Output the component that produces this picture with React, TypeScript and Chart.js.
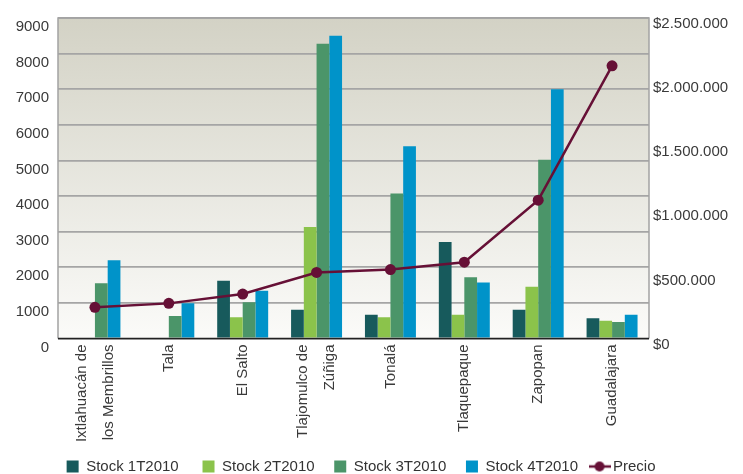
import React, { useEffect, useRef } from "react";
import { Chart, registerables } from "chart.js";

Chart.register(...registerables);

const categories: string[][] = [
  ["Ixtlahuacán de", "los Membrillos"],
  ["", "Tala"],
  ["", "El Salto"],
  ["Tlajomulco de", "Zúñiga"],
  ["", "Tonalá"],
  ["", "Tlaquepaque"],
  ["", "Zapopan"],
  ["", "Guadalajara"],
];

const stock1T2010 = [0, 0, 1620, 810, 670, 2710, 810, 570];
const stock2T2010 = [0, 0, 600, 3130, 600, 670, 1450, 500];
const stock3T2010 = [1550, 630, 1015, 8280, 4070, 1720, 5020, 460];
const stock4T2010 = [2200, 990, 1340, 8500, 5400, 1570, 7000, 670];
const precio = [243000, 274000, 347000, 515000, 538000, 595000, 1079000, 2127000];

const seriesNames = ["Stock 1T2010", "Stock 2T2010", "Stock 3T2010", "Stock 4T2010", "Precio"];
const colors = ["#175A5C", "#8BC34B", "#4B9569", "#0093C9", "#661036"];
// trailing spacing after each legend entry (number of spaces), to mimic original gaps
const legendTrail = [2, 1, 1, 0, 5];

const FONT = "'Liberation Sans', Arial, sans-serif";
const LABEL_LINE = 27;

function fmtMoney(v: number): string {
  return "$" + String(Math.round(v)).replace(/\B(?=(\d{3})+(?!\d))/g, ".");
}

function makeLineMarker(color: string): HTMLCanvasElement {
  const c = document.createElement("canvas");
  c.width = 22;
  c.height = 12;
  const ctx = c.getContext("2d")!;
  ctx.strokeStyle = color;
  ctx.lineWidth = 2.5;
  ctx.beginPath();
  ctx.moveTo(0, 6);
  ctx.lineTo(22, 6);
  ctx.stroke();
  ctx.fillStyle = color;
  ctx.beginPath();
  ctx.arc(11, 6, 5, 0, Math.PI * 2);
  ctx.fill();
  return c;
}

const plotBg = {
  id: "plotBg",
  beforeDraw(chart: any) {
    const { ctx, chartArea } = chart;
    if (!chartArea) return;
    const { left, right, top, bottom } = chartArea;
    const g = ctx.createLinearGradient(0, top, 0, bottom);
    g.addColorStop(0, "#D3D2C5");
    g.addColorStop(1, "#FBFBF9");
    ctx.save();
    ctx.fillStyle = g;
    ctx.fillRect(left, top, right - left, bottom - top);
    ctx.restore();
  },
  afterDatasetsDraw(chart: any) {
    const { ctx, chartArea } = chart;
    const { left, right, top, bottom } = chartArea;
    ctx.save();
    ctx.strokeStyle = "#A3A3A3";
    ctx.lineWidth = 1.5;
    ctx.beginPath();
    ctx.moveTo(left, bottom);
    ctx.lineTo(left, top);
    ctx.lineTo(right, top);
    ctx.lineTo(right, bottom);
    ctx.stroke();
    ctx.strokeStyle = "#222222";
    ctx.lineWidth = 1.5;
    ctx.beginPath();
    ctx.moveTo(left, bottom);
    ctx.lineTo(right, bottom);
    ctx.stroke();
    ctx.restore();
  },
};

export default function App() {
  const ref = useRef<HTMLCanvasElement | null>(null);

  useEffect(() => {
    document.body.style.margin = "0";
    if (!ref.current) return;
    const marker = makeLineMarker(colors[4]);
    const barSets = [stock1T2010, stock2T2010, stock3T2010, stock4T2010].map((d, i) => ({
      type: "bar" as const,
      label: seriesNames[i],
      data: d,
      backgroundColor: colors[i],
      borderWidth: 0,
      yAxisID: "y",
      order: 1,
      categoryPercentage: 0.69,
      barPercentage: 1.0,
    }));
    const chart = new Chart(ref.current, {
      type: "bar",
      data: {
        labels: categories,
        datasets: [
          ...barSets,
          {
            type: "line" as const,
            label: seriesNames[4],
            data: precio,
            borderColor: colors[4],
            backgroundColor: colors[4],
            borderWidth: 2.5,
            pointRadius: 5.5,
            pointBackgroundColor: colors[4],
            pointBorderWidth: 0,
            yAxisID: "y1",
            order: 0,
            tension: 0,
          } as any,
        ],
      },
      options: {
        animation: false,
        responsive: false,
        maintainAspectRatio: false,
        layout: { padding: { top: 16, left: 0, right: 0, bottom: 0 } },
        plugins: {
          tooltip: { enabled: false },
          legend: {
            position: "bottom",
            labels: {
              usePointStyle: true,
              boxWidth: 12,
              boxHeight: 12,
              padding: 15.5,
              color: "#333333",
              font: { family: FONT, size: 15 },
              generateLabels: (c: any) =>
                c.data.datasets.map((ds: any, i: number) => ({
                  text: ds.label + " ".repeat(legendTrail[i]),
                  fillStyle: colors[i],
                  strokeStyle: colors[i],
                  lineWidth: 0,
                  pointStyle: i === 4 ? marker : "rect",
                  fontColor: "#333333",
                  hidden: false,
                  datasetIndex: i,
                })),
            },
          },
        },
        scales: {
          x: {
            grid: { display: false, drawTicks: false },
            border: { display: false },
            afterFit: (s: any) => {
              s.height = 105;
            },
            ticks: {
              autoSkip: false,
              minRotation: 90,
              maxRotation: 90,
              padding: 6,
              labelOffset: -LABEL_LINE / 2,
              color: "#3A3A3A",
              font: (ctx: any) => {
                const lbl = categories[ctx.index] || [];
                const twoLines = lbl[0] !== "";
                return {
                  family: FONT,
                  size: 15,
                  lineHeight: (twoLines ? LABEL_LINE : LABEL_LINE / 2) + "px",
                };
              },
            },
          },
          y: {
            position: "left",
            min: 0,
            max: 9000,
            afterFit: (s: any) => {
              s.width = 58;
            },
            ticks: {
              stepSize: 1000,
              padding: 9,
              labelOffset: 9,
              color: "#3A3A3A",
              font: { family: FONT, size: 15 },
              callback: (v: any) => String(v),
            },
            grid: { color: "#A5A5A5", lineWidth: 1.8, drawTicks: false },
            border: { display: false },
          },
          y1: {
            position: "right",
            min: 0,
            max: 2500000,
            afterFit: (s: any) => {
              s.width = 94;
            },
            ticks: {
              stepSize: 500000,
              padding: 4,
              labelOffset: 6,
              color: "#3A3A3A",
              font: { family: FONT, size: 15 },
              callback: (v: any) => fmtMoney(Number(v)),
            },
            grid: { display: false, drawTicks: false },
            border: { display: false },
          },
        },
      },
      plugins: [plotBg],
    });
    return () => chart.destroy();
  }, []);

  return (
    <div style={{ width: 743, height: 474, overflow: "hidden", background: "#ffffff" }}>
      <canvas ref={ref} width={743} height={484} style={{ display: "block" }} />
    </div>
  );
}
